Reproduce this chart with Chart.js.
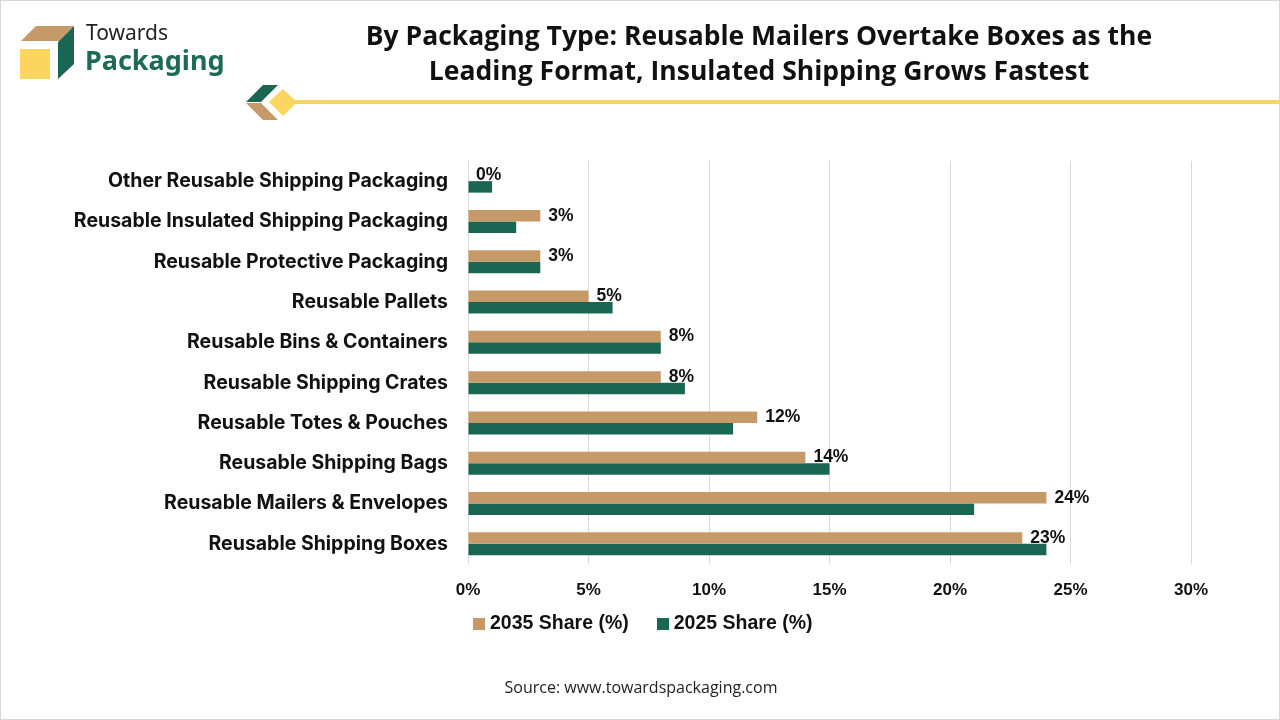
<!DOCTYPE html>
<html lang="en">
<head>
<meta charset="UTF-8">
<title>Reusable Shipping Packaging by Type</title>
<script src="https://cdn.jsdelivr.net/npm/chart.js"></script>
<style>
  html, body { margin: 0; padding: 0; background: #fff; }
  #page { position: relative; width: 1280px; height: 720px; overflow: hidden; box-sizing: border-box; border: 1px solid #d6d6d6; }
  #chart { position: absolute; left: 0; top: 0; }
  .title { position: absolute; left: 300px; width: 916px; top: 17px; text-align: center; font-family: "Open Sans", sans-serif; font-weight: 700; font-size: 26.5px; line-height: 35px; color: #111; }
  .brand1 { position: absolute; left: 85px; top: 17px; font-family: "Noto Sans", sans-serif; font-size: 21px; color: #222; }
  .brand2 { position: absolute; left: 84px; top: 40px; font-family: "Noto Sans", sans-serif; font-weight: 700; font-size: 27px; color: #1d6a55; }
  .rule { position: absolute; left: 290px; top: 99px; width: 990px; height: 4px; background: #f5d664; }
  .legend { position: absolute; top: 610px; left: 472px; font-family: "Liberation Sans Narrow", "Arial Narrow", Arial, sans-serif; font-weight: 700; font-size: 19.5px; color: #111; }
  .legend span.box { display: inline-block; width: 12px; height: 12px; margin-right: 5px; vertical-align: -1px; }
  .legend span.item { margin-right: 28px; }
  .source { position: absolute; top: 675px; left: 0; width: 1280px; text-align: center; font-family: "Open Sans", sans-serif; font-size: 16px; color: #222; }
</style>
</head>
<body>
<div id="page">
  <canvas id="chart" width="1280" height="720"></canvas>

  <svg style="position:absolute;left:0;top:0" width="320" height="130">
    <polygon points="20,40 35,25 73,25 58,40" fill="#c69a68"/>
    <polygon points="73,25 73,63 57,78 57,41" fill="#1b6553"/>
    <rect x="19" y="48" width="30" height="30" fill="#fcd55e"/>
    <polygon points="245,101 262,84 277,84 260,101" fill="#1b6553"/>
    <polygon points="245,102 260,102 277,119 262,119" fill="#c69a68"/>
    <polygon points="282,88 296,101 282,115 268,101" fill="#fcd55e"/>
  </svg>
  <div class="brand1">Towards</div>
  <div class="brand2">Packaging</div>
  <div class="rule"></div>

  <div class="title">By Packaging Type: Reusable Mailers Overtake Boxes as the<br>Leading Format, Insulated Shipping Grows Fastest</div>

  <div class="legend" id="legend"></div>
  <div class="source">Source: www.towardspackaging.com</div>
</div>

<script>
// categories, top to bottom
const categories = [
  'Other Reusable Shipping Packaging',
  'Reusable Insulated Shipping Packaging',
  'Reusable Protective Packaging',
  'Reusable Pallets',
  'Reusable Bins & Containers',
  'Reusable Shipping Crates',
  'Reusable Totes & Pouches',
  'Reusable Shipping Bags',
  'Reusable Mailers & Envelopes',
  'Reusable Shipping Boxes'
];
const share2035 = [0, 3, 3, 5, 8, 8, 12, 14, 24, 23];
const share2025 = [1, 2, 3, 6, 8, 9, 11, 15, 21, 24];
const xTicks = [0, 5, 10, 15, 20, 25, 30];

const tan = '#c69a68';
const green = '#1b6553';

// labels at the end of the 2035 bars
const valueLabels = {
  id: 'valueLabels',
  afterDatasetsDraw(chart) {
    const ctx = chart.ctx;
    const meta = chart.getDatasetMeta(0);
    ctx.save();
    ctx.font = 'bold 17.5px "Liberation Sans Narrow", "Arial Narrow", Arial, sans-serif';
    ctx.fillStyle = '#111';
    ctx.textAlign = 'left';
    ctx.textBaseline = 'middle';
    meta.data.forEach((bar, i) => {
      ctx.fillText(share2035[i] + '%', bar.x + 8, bar.y);
    });
    ctx.restore();
  }
};

new Chart(document.getElementById('chart'), {
  type: 'bar',
  data: {
    labels: categories,
    datasets: [
      { label: '2035 Share (%)', data: share2035, backgroundColor: tan },
      { label: '2025 Share (%)', data: share2025, backgroundColor: green }
    ]
  },
  options: {
    indexAxis: 'y',
    responsive: false,
    animation: false,
    devicePixelRatio: 1,
    categoryPercentage: 0.57,
    barPercentage: 1.0,
    layout: { padding: { top: 160, right: 90, bottom: 117, left: 0 } },
    plugins: {
      legend: { display: false },
      tooltip: { enabled: false }
    },
    scales: {
      x: {
        min: 0, max: 30,
        afterBuildTicks(scale) { scale.ticks = xTicks.map(v => ({ value: v })); },
        afterFit(scale) { scale.height = 40; },
        grid: { color: '#d9d9d9', drawTicks: false },
        border: { display: false },
        ticks: {
          padding: 16,
          color: '#111',
          font: { family: '"Liberation Sans Narrow", "Arial Narrow", Arial, sans-serif', size: 17, weight: 'bold' },
          callback: v => v + '%'
        }
      },
      y: {
        afterFit(scale) { scale.width = 467; },
        grid: { display: false, drawTicks: false },
        border: { display: false },
        ticks: {
          padding: 20,
          color: '#111',
          font: { family: 'Inter, "Noto Sans", sans-serif', size: 19.5, weight: 'bold' }
        }
      }
    }
  },
  plugins: [valueLabels]
});

// legend
const legendEl = document.getElementById('legend');
[['2035 Share (%)', tan], ['2025 Share (%)', green]].forEach(([name, color]) => {
  const it = document.createElement('span');
  it.className = 'item';
  it.innerHTML = '<span class="box" style="background:' + color + '"></span>' + name;
  legendEl.appendChild(it);
});
</script>
</body>
</html>
